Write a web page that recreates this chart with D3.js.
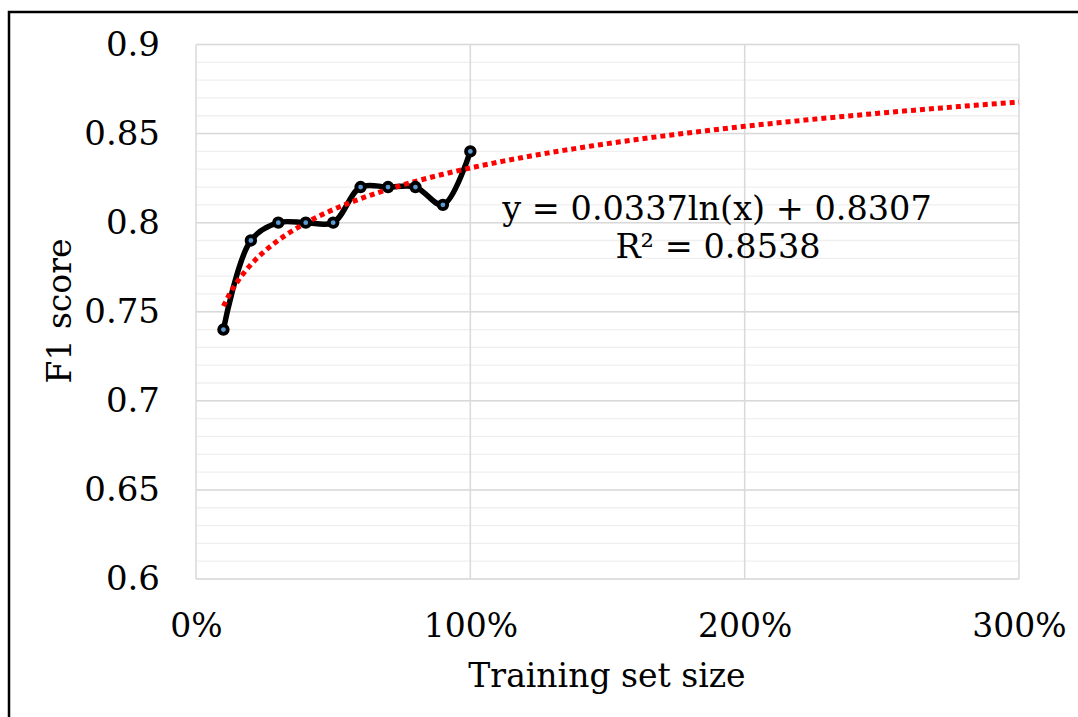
<!DOCTYPE html>
<html>
<head>
<meta charset="utf-8">
<script src="https://cdn.jsdelivr.net/npm/d3@7"></script>
<style>
  body { margin: 0; background: #fff; }
  text { font-family: "DejaVu Serif", "Liberation Serif", serif; fill: #000; }
</style>
</head>
<body>
<div id="chart"></div>
<script>
// training set size (fraction of full set) and F1 score
let sizes = [0.1, 0.2, 0.3, 0.4, 0.5, 0.6, 0.7, 0.8, 0.9, 1.0];
let f1Scores = [0.74, 0.79, 0.80, 0.80, 0.80, 0.82, 0.82, 0.82, 0.81, 0.84];
let xTicks = [0, 1, 2, 3];
let yTicks = [0.6, 0.65, 0.7, 0.75, 0.8, 0.85, 0.9];
let yMinorTicks = d3.range(0.6, 0.9001, 0.01);
// log trendline as printed on the chart
let trendA = 0.0337;
let trendB = 0.8307;
let trendRange = [0.1, 3];
let trendLabel = "y = 0.0337ln(x) + 0.8307";
let r2Label = "R\u00b2 = 0.8538";

let w = 1078, h = 717;
let plotL = 196, plotR = 1019, plotT = 44.5, plotB = 579;

let svg = d3.select("#chart").append("svg")
    .attr("width", w)
    .attr("height", h);

// outer frame
svg.append("rect")
    .attr("x", 9).attr("y", 12)
    .attr("width", w + 20).attr("height", h + 20)
    .attr("fill", "none")
    .attr("stroke", "#000")
    .attr("stroke-width", 2.5);

let xScale = d3.scaleLinear().domain([0, 3]).range([plotL, plotR]);
let yScale = d3.scaleLinear().domain([0.6, 0.9]).range([plotB, plotT]);

// minor horizontal gridlines
svg.append("g").selectAll("line")
    .data(yMinorTicks)
    .join("line")
    .attr("x1", plotL).attr("x2", plotR)
    .attr("y1", d => yScale(d)).attr("y2", d => yScale(d))
    .attr("stroke", "#efefef")
    .attr("stroke-width", 1.3);

// major gridlines
svg.append("g").selectAll("line")
    .data(yTicks)
    .join("line")
    .attr("x1", plotL).attr("x2", plotR)
    .attr("y1", d => yScale(d)).attr("y2", d => yScale(d))
    .attr("stroke", "#d9d9d9")
    .attr("stroke-width", 1.5);

svg.append("g").selectAll("line")
    .data(xTicks)
    .join("line")
    .attr("x1", d => xScale(d)).attr("x2", d => xScale(d))
    .attr("y1", plotT).attr("y2", plotB)
    .attr("stroke", "#d9d9d9")
    .attr("stroke-width", 1.5);

// axes (labels only, Excel style)
let yAxis = d3.axisLeft(yScale)
    .tickValues(yTicks)
    .tickSize(0)
    .tickPadding(36)
    .tickFormat(d => String(+d.toFixed(2)));
let yg = svg.append("g")
    .attr("transform", "translate(" + plotL + ",0)")
    .call(yAxis);
yg.select(".domain").remove();
yg.selectAll("text")
    .style("font-family", "DejaVu Serif")
    .style("font-size", "34px");

let xAxis = d3.axisBottom(xScale)
    .tickValues(xTicks)
    .tickSize(0)
    .tickPadding(35)
    .tickFormat(d => (d * 100) + "%");
let xg = svg.append("g")
    .attr("transform", "translate(0," + plotB + ")")
    .call(xAxis);
xg.select(".domain").remove();
xg.selectAll("text")
    .style("font-family", "DejaVu Serif")
    .style("font-size", "33px");

// axis titles
svg.append("text")
    .attr("x", 607)
    .attr("y", 687)
    .attr("text-anchor", "middle")
    .style("font-size", "33px")
    .text("Training set size");

svg.append("text")
    .attr("transform", "translate(71," + 311 + ") rotate(-90)")
    .attr("text-anchor", "middle")
    .style("font-size", "33px")
    .text("F1 score");

// data line
let data = sizes.map((s, i) => ({x: s, y: f1Scores[i]}));
let line = d3.line()
    .x(d => xScale(d.x))
    .y(d => yScale(d.y))
    .curve(d3.curveCatmullRom.alpha(0.5));

svg.append("path")
    .datum(data)
    .attr("d", line)
    .attr("fill", "none")
    .attr("stroke", "#000")
    .attr("stroke-width", 5.5)
    .attr("stroke-linejoin", "round");

// trendline
let trendPts = d3.range(trendRange[0], trendRange[1] + 0.0001, 0.02)
    .map(x => ({x: x, y: trendA * Math.log(x) + trendB}));
svg.append("path")
    .datum(trendPts)
    .attr("d", d3.line().x(d => xScale(d.x)).y(d => yScale(d.y)))
    .attr("fill", "none")
    .attr("stroke", "#ff0000")
    .attr("stroke-width", 5)
    .attr("stroke-dasharray", "5,4");

// markers
svg.append("g").selectAll("circle")
    .data(data)
    .join("circle")
    .attr("cx", d => xScale(d.x))
    .attr("cy", d => yScale(d.y))
    .attr("r", 4.3)
    .attr("fill", "#5b9bd5")
    .attr("stroke", "#000")
    .attr("stroke-width", 3.8);

// trendline label
svg.append("text")
    .attr("x", 717).attr("y", 220)
    .attr("text-anchor", "middle")
    .style("font-size", "33.5px")
    .text(trendLabel);
svg.append("text")
    .attr("x", 718).attr("y", 258)
    .attr("text-anchor", "middle")
    .style("font-size", "33.5px")
    .text(r2Label);
</script>
</body>
</html>
